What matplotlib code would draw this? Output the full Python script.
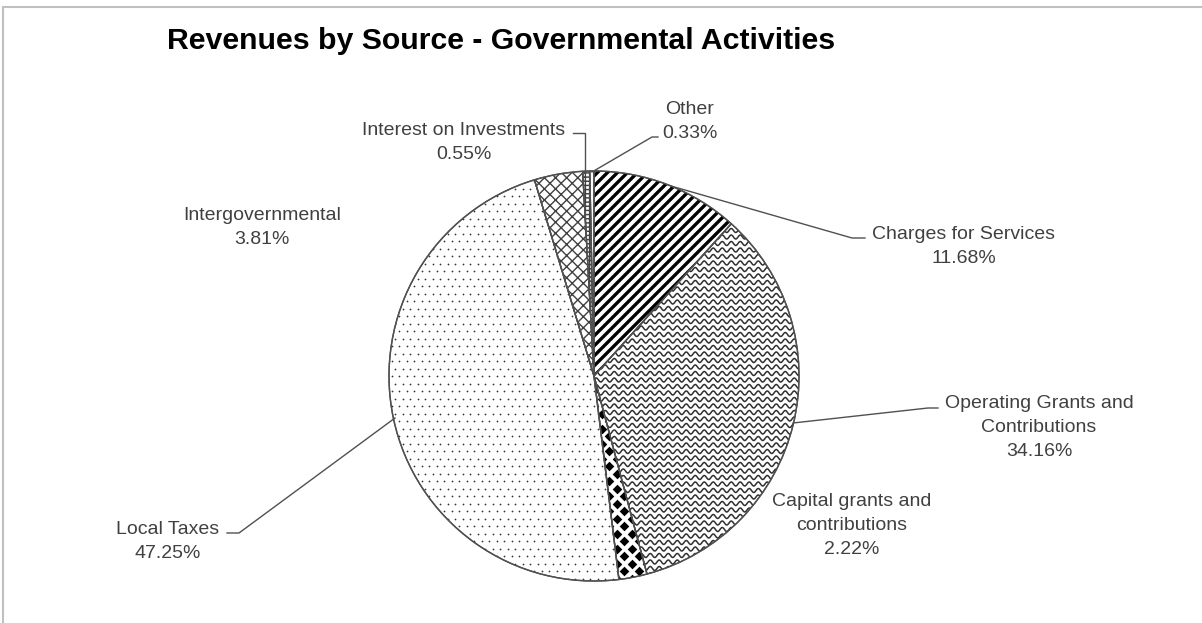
import numpy as np
import matplotlib
matplotlib.use("Agg")
import matplotlib.pyplot as plt
from matplotlib.collections import LineCollection
from matplotlib.patches import Rectangle, Wedge

plt.rcParams['font.family'] = ['Liberation Sans', 'DejaVu Sans']

categories = ["Charges for Services", "Operating Grants and\nContributions",
              "Capital grants and\ncontributions", "Local Taxes",
              "Intergovernmental", "Interest on Investments", "Other"]
shares = [11.68, 34.16, 2.22, 47.25, 3.81, 0.55, 0.33]

W, H = 1202, 623
TXT = "#404040"

def Y(py):
    # picture rows run downwards, axes y runs upwards
    return H - py

fig = plt.figure(figsize=(W / 100, H / 100), dpi=100)
ax = fig.add_axes([0, 0, 1, 1])

cx, cy, r = 594, Y(376), 205
wedges, _ = ax.pie(shares, center=(cx, cy), radius=r, startangle=90,
                   counterclock=False,
                   wedgeprops=dict(facecolor="white", edgecolor="#505050",
                                   linewidth=1.0))
ax.set_xlim(0, W)
ax.set_ylim(0, H)
ax.set_aspect("equal")
ax.axis("off")

x0, x1 = cx - r - 20, cx + r + 20
y0, y1 = cy - r - 20, cy + r + 20

# charges for services: thick diagonal stripes
segs = []
for c in np.arange(-2 * r - 40, 2 * r + 40, 10):
    segs.append([(x0, y0 + (x0 - cx) + c - (y0 - cy)), (x1, y0 + (x1 - cx) + c - (y0 - cy))])
lc = LineCollection(segs, colors="black", linewidths=2.4, zorder=3)
lc.set_clip_path(wedges[0])
ax.add_collection(lc)

# operating grants: wavy lines
xs = np.linspace(x0, x1, 800)
segs = [np.column_stack([xs, yy + 2.0 * np.sin(2 * np.pi * xs / 9.0)])
        for yy in np.arange(y0, y1, 6.5)]
lc = LineCollection(segs, colors="#303030", linewidths=1.1, zorder=3)
lc.set_clip_path(wedges[1])
ax.add_collection(lc)

# capital grants: diamonds
gx, gy = np.meshgrid(np.arange(x0, x1, 15), np.arange(y0, y1, 7.5))
gx = gx + (np.arange(gx.shape[0])[:, None] % 2) * 7.5
sc = ax.scatter(gx.ravel(), gy.ravel(), marker="D", s=24, color="black",
                linewidths=0, zorder=3)
sc.set_clip_path(wedges[2])

# local taxes: sparse dots
gx, gy = np.meshgrid(np.arange(x0, x1, 7.5), np.arange(y0, y1, 7.5))
gx = gx + (np.arange(gx.shape[0])[:, None] % 2) * 3.75
sc = ax.scatter(gx.ravel(), gy.ravel(), marker="o", s=1.6, color="#333333",
                linewidths=0, zorder=3)
sc.set_clip_path(wedges[3])

# intergovernmental and interest: plain hatches
for i, hatch in ((4, "xxx"), (5, "++++")):
    w = wedges[i]
    ax.add_patch(Wedge(w.center, w.r, w.theta1, w.theta2, facecolor="none",
                       edgecolor="#404040", linewidth=0, hatch=hatch, zorder=3))

# redraw outlines above patterns
for w in wedges:
    ax.add_patch(Wedge(w.center, w.r, w.theta1, w.theta2, facecolor="none",
                       edgecolor="#505050", linewidth=1.0, zorder=4))

# labels (centre x, first line y in picture rows) and leader lines
labels = [
    (964, 233, [(865, 238), (852, 238), (671, 186)]),
    (1039, 402, [(938, 408), (928, 408), (793, 423)]),
    (852, 500, None),
    (168, 528, [(227, 533), (239, 533), (395, 418)]),
    (262, 214, None),
    (464, 129, [(573, 133), (585, 133), (585, 172)]),
    (690, 108, [(658, 137), (652, 137), (592, 172)]),
]
for (lx, ly, leader), name, val in zip(labels, categories, shares):
    ax.text(lx, Y(ly) + 7, "{}\n{:.2f}%".format(name, val), ha="center", va="top",
            fontsize=14, color=TXT, linespacing=1.52, zorder=5)
    if leader:
        px, py = zip(*leader)
        ax.plot(px, [Y(p) for p in py], color="#505050", lw=1.0, zorder=5)

ax.text(167, Y(41), "Revenues by Source - Governmental Activities",
        ha="left", va="center", fontsize=21.8, fontweight="bold", color="black")

ax.add_patch(Rectangle((3, -10), W + 10, Y(7) + 10, facecolor="none",
                       edgecolor="#c0c0c0", linewidth=1.5, zorder=6))

fig.savefig("out.png", dpi=100)
